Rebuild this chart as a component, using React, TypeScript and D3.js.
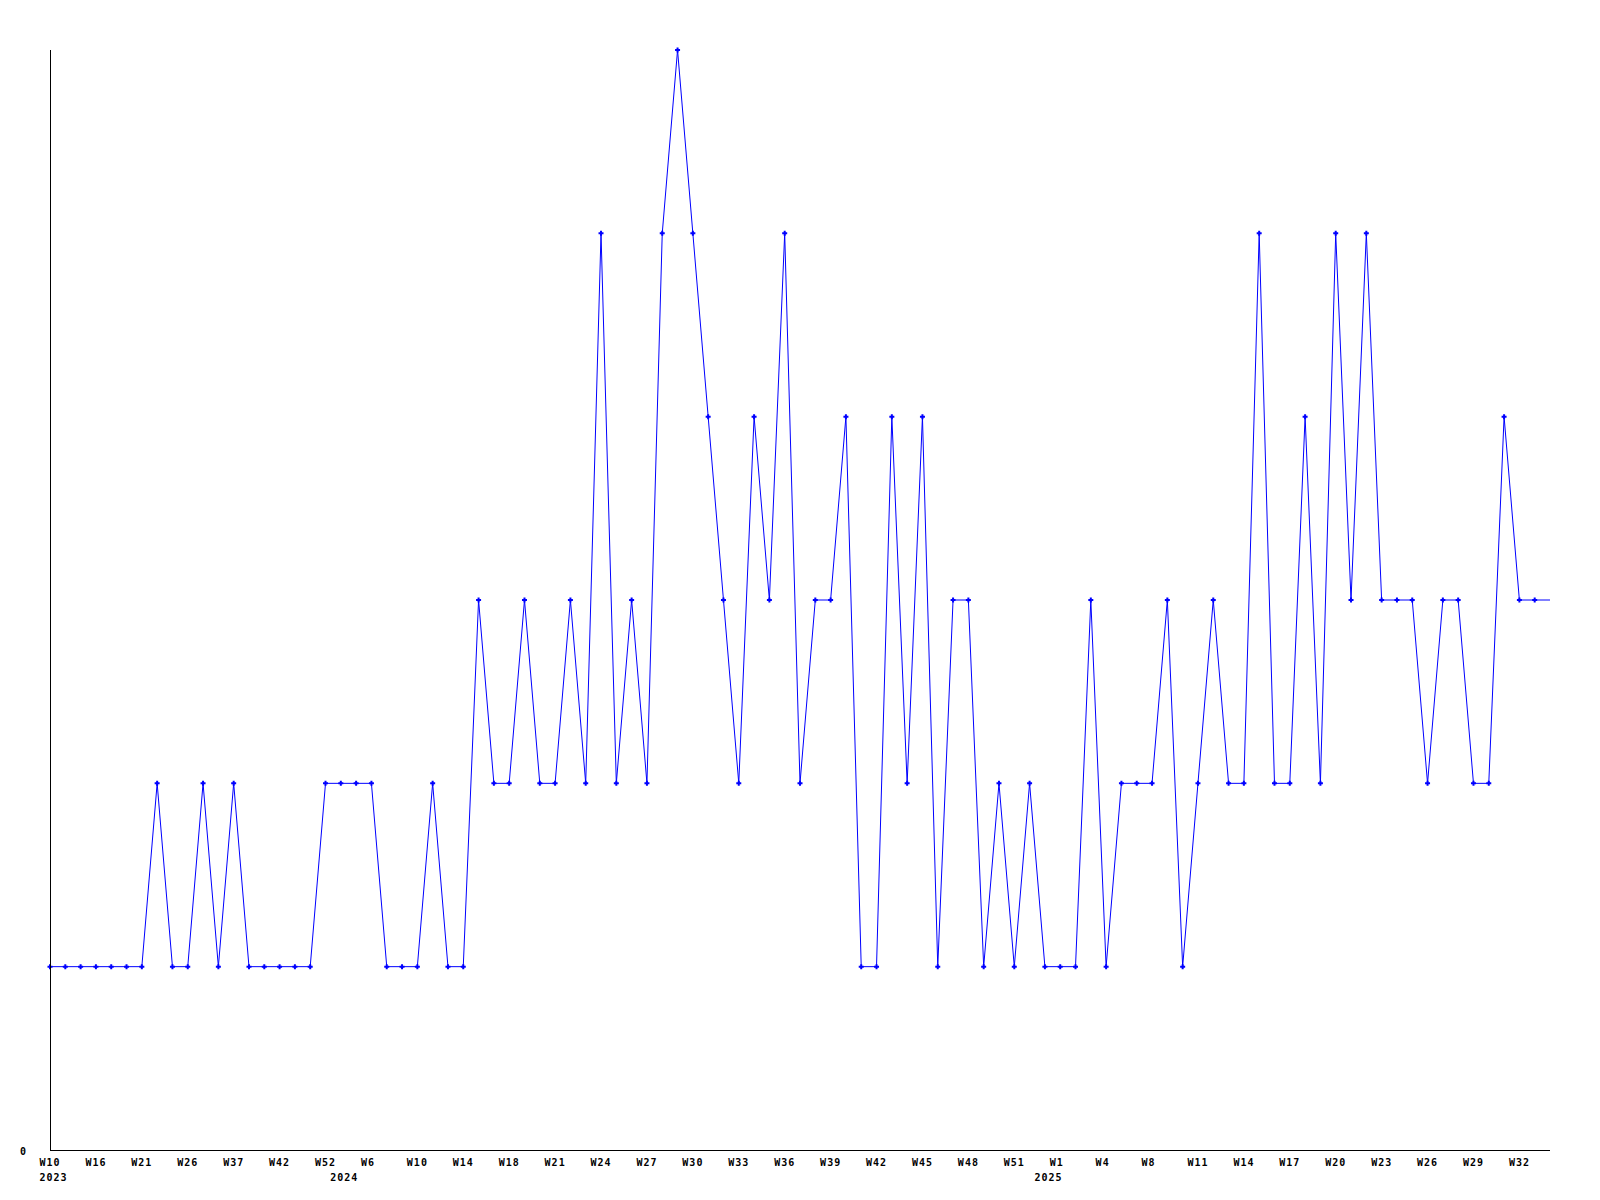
import React from "react";
import * as d3 from "d3";

const values: number[] = [
  1, 1, 1, 1, 1, 1, 1, 2, 1, 1,
  2, 1, 2, 1, 1, 1, 1, 1, 2, 2,
  2, 2, 1, 1, 1, 2, 1, 1, 3, 2,
  2, 3, 2, 2, 3, 2, 5, 2, 3, 2,
  5, 6, 5, 4, 3, 2, 4, 3, 5, 2,
  3, 3, 4, 1, 1, 4, 2, 4, 1, 3,
  3, 1, 2, 1, 2, 1, 1, 1, 3, 1,
  2, 2, 2, 3, 1, 2, 3, 2, 2, 5,
  2, 2, 4, 2, 5, 3, 5, 3, 3, 3,
  2, 3, 3, 2, 2, 4, 3, 3, 3,
];

const weekLabels: string[] = [
  "W10", "W16", "W21", "W26", "W37", "W42", "W52", "W6", "W10", "W14",
  "W18", "W21", "W24", "W27", "W30", "W33", "W36", "W39", "W42", "W45",
  "W48", "W51", "W1", "W4", "W8", "W11", "W14", "W17", "W20", "W23",
  "W26", "W29", "W32",
];
const weekLabelStep = 3;

const yearLabels: string[] = ["2023", "2024", "2025"];
const yearIndices: number[] = [0, 19, 65];

const yMax = 6;

const left = 50;
const right = 1550;
const top = 50;
const bottom = 1150;
const font = "'DejaVu Sans Mono', monospace";

export default function App() {
  const x = d3.scaleLinear().domain([0, values.length - 1]).range([left, right]);
  const y = d3.scaleLinear().domain([0, yMax]).range([bottom, top]);
  const line = d3
    .line<number>()
    .x((_, i) => x(i))
    .y((d) => y(d));

  const markerPts = values.slice(0, values.length - 1);

  return (
    <svg
      width={1600}
      height={1200}
      style={{ position: "absolute", left: 0, top: 0, background: "#fff" }}
    >
      <rect x={0} y={0} width={1600} height={1200} fill="#fff" />
      <path d={line(values) || ""} fill="none" stroke="#0000ff" strokeWidth={1} />
      {markerPts.map((v, i) => (
        <path
          key={i}
          d={`M${x(i) - 2.5},${y(v)}H${x(i) + 2.5}M${x(i)},${y(v) - 2.5}V${y(v) + 2.5}`}
          stroke="#0000ff"
          strokeWidth={2}
          fill="none"
        />
      ))}
      <line x1={left + 0.5} x2={left + 0.5} y1={top} y2={bottom} stroke="#000" strokeWidth={1} />
      <line x1={left} x2={right} y1={bottom + 0.5} y2={bottom + 0.5} stroke="#000" strokeWidth={1} />
      <text
        x={23}
        y={1154.5}
        textAnchor="middle"
        fontFamily={font}
        fontWeight="bold"
        fontSize={10}
        fill="#000"
      >
        0
      </text>
      {weekLabels.map((lab, k) => (
        <text
          key={"w" + k}
          x={x(k * weekLabelStep) - 10.5}
          y={1165.5}
          fontFamily={font}
          fontWeight="bold"
          fontSize={10}
          letterSpacing={1}
          fill="#000"
        >
          {lab}
        </text>
      ))}
      {yearLabels.map((lab, k) => (
        <text
          key={"y" + k}
          x={x(yearIndices[k]) - 10.5}
          y={1180.5}
          fontFamily={font}
          fontWeight="bold"
          fontSize={10}
          letterSpacing={1}
          fill="#000"
        >
          {lab}
        </text>
      ))}
    </svg>
  );
}
